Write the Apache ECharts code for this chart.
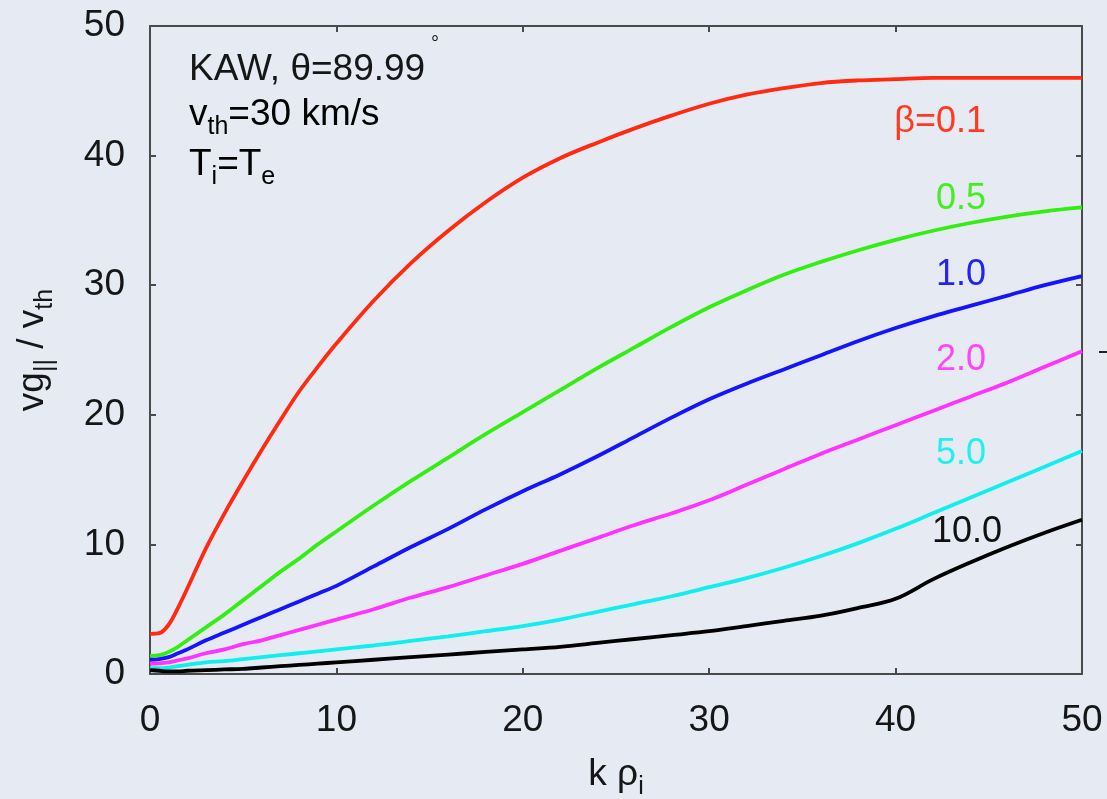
<!DOCTYPE html>
<html>
<head>
<meta charset="utf-8">
<script src="https://cdn.jsdelivr.net/npm/echarts@6/dist/echarts.min.js"></script>
<style>
  html, body { margin: 0; padding: 0; background: #e6ebf3; }
  #chart { width: 1107px; height: 799px; }
</style>
</head>
<body>
<div id="chart"></div>
<script>
// k rho_i sample points shared by every curve
const kRho = [0, 0.5, 1, 1.5, 2, 3, 4, 5, 6, 7, 8, 9, 10,
  12, 14, 16, 18, 20, 22, 24, 26, 28, 30, 32, 34, 36, 38, 40, 42, 44, 46, 48, 50];

// parallel group velocity vg|| / vth for each plasma beta
const beta01 = [3.1, 3.15, 3.8, 5.1, 6.6, 9.7, 12.4, 14.9, 17.3, 19.6, 21.8, 23.7, 25.5,
  28.8, 31.7, 34.2, 36.4, 38.3, 39.8, 41.0, 42.1, 43.1, 44.0, 44.7, 45.2, 45.6, 45.8, 45.9, 46.0, 46.0, 46.0, 46.0, 46.0];
const beta05 = [1.4, 1.45, 1.7, 2.1, 2.6, 3.6, 4.6, 5.7, 6.8, 7.9, 8.9, 10.0, 11.0,
  13.0, 14.9, 16.7, 18.5, 20.2, 21.9, 23.6, 25.2, 26.8, 28.3, 29.6, 30.8, 31.8, 32.7, 33.5, 34.2, 34.8, 35.3, 35.7, 36.0];
const beta10 = [1.1, 1.15, 1.3, 1.6, 1.9, 2.6, 3.2, 3.8, 4.4, 5.0, 5.6, 6.2, 6.8,
  8.3, 9.8, 11.2, 12.7, 14.1, 15.4, 16.8, 18.3, 19.8, 21.2, 22.4, 23.5, 24.6, 25.7, 26.7, 27.6, 28.4, 29.2, 30.0, 30.7];
const beta20 = [0.8, 0.82, 0.9, 1.05, 1.2, 1.6, 1.9, 2.3, 2.6, 3.0, 3.4, 3.8, 4.2,
  5.0, 5.9, 6.7, 7.6, 8.5, 9.5, 10.5, 11.5, 12.4, 13.4, 14.6, 15.8, 17.0, 18.1, 19.2, 20.3, 21.4, 22.5, 23.7, 24.9];
const beta50 = [0.45, 0.45, 0.5, 0.6, 0.7, 0.9, 1.0, 1.15, 1.3, 1.45, 1.6, 1.75, 1.9,
  2.2, 2.55, 2.9, 3.3, 3.7, 4.2, 4.8, 5.4, 6.0, 6.7, 7.4, 8.2, 9.1, 10.1, 11.2, 12.4, 13.6, 14.8, 16.0, 17.2];
const beta100 = [0.3, 0.25, 0.2, 0.2, 0.25, 0.3, 0.35, 0.4, 0.5, 0.6, 0.7, 0.8, 0.9,
  1.1, 1.3, 1.5, 1.7, 1.9, 2.1, 2.4, 2.7, 3.0, 3.3, 3.7, 4.1, 4.5, 5.1, 5.8, 7.3, 8.6, 9.8, 10.9, 11.9];

const betaLabels = ['β=0.1', '0.5', '1.0', '2.0', '5.0', '10.0'];
const xTicks = [0, 10, 20, 30, 40, 50];
const yTicks = [0, 10, 20, 30, 40, 50];

const FONT = '"Liberation Sans", Arial, Helvetica, sans-serif';
const INK = '#161616';
const AXIS = '#4a4a4a';

const curves = [
  { name: betaLabels[0], values: beta01, color: '#ff2a10', labelColor: '#ff3a20', lx: 986, ly: 122 },
  { name: betaLabels[1], values: beta05, color: '#33ee11', labelColor: '#44ee22', lx: 986, ly: 199 },
  { name: betaLabels[2], values: beta10, color: '#1414ff', labelColor: '#2424ee', lx: 986, ly: 275 },
  { name: betaLabels[3], values: beta20, color: '#ff33ff', labelColor: '#ff44ff', lx: 986, ly: 360 },
  { name: betaLabels[4], values: beta50, color: '#11eeee', labelColor: '#22f0f0', lx: 986, ly: 454 },
  { name: betaLabels[5], values: beta100, color: '#000000', labelColor: '#111111', lx: 1002, ly: 532 }
];

const chart = echarts.init(document.getElementById('chart'), null, { renderer: 'canvas' });

const tickLabel = { fontFamily: FONT, fontSize: 37, color: INK };
const rich = {
  n: { fontFamily: FONT, fontSize: 37, color: INK, lineHeight: 38 },
  s: { fontFamily: FONT, fontSize: 25, color: INK, lineHeight: 50, verticalAlign: 'bottom' }
};

const axisCommon = {
  type: 'value',
  min: 0, max: 50, interval: 10,
  splitLine: { show: false },
  axisLine: { show: true, onZero: false, lineStyle: { color: AXIS, width: 2 } },
  axisTick: { show: true, inside: true, length: 6, lineStyle: { color: AXIS, width: 2 } }
};

const graphics = [];
curves.forEach(c => {
  graphics.push({
    type: 'text', x: c.lx, y: c.ly, z: 10,
    style: { text: c.name, fill: c.labelColor, font: '36px ' + FONT, textAlign: 'right', textVerticalAlign: 'middle' }
  });
});
graphics.push(
  { type: 'text', x: 189, y: 70, z: 10,
    style: { text: 'KAW, θ=89.99', fill: INK, font: '37px ' + FONT, textVerticalAlign: 'middle' } },
  { type: 'text', x: 431, y: 44, z: 10,
    style: { text: '°', fill: INK, font: '20px ' + FONT, textVerticalAlign: 'middle' } },
  { type: 'text', x: 189, y: 90, z: 10,
    style: { text: '{n|v}{s|th}{n|=30 km/s}', rich: rich } },
  { type: 'text', x: 189, y: 140, z: 10,
    style: { text: '{n|T}{s|i}{n|=T}{s|e}', rich: rich } },
  { type: 'line', z: 10, shape: { x1: 1099, y1: 352, x2: 1107, y2: 352 }, style: { stroke: '#222', lineWidth: 2 } }
);

chart.setOption({
  backgroundColor: '#e6ebf3',
  animation: false,
  grid: { left: 150, right: 25, top: 26, bottom: 125, containLabel: false, outerBoundsMode: 'none' },
  xAxis: [
    Object.assign({}, axisCommon, {
      position: 'bottom',
      axisLabel: Object.assign({ margin: 28, formatter: v => xTicks.includes(v) ? String(v) : '' }, tickLabel),
      name: '{n|k ρ}{s|i}',
      nameLocation: 'middle',
      nameGap: 76,
      nameTextStyle: { rich: rich }
    }),
    Object.assign({}, axisCommon, { position: 'top', axisLabel: { show: false } })
  ],
  yAxis: [
    Object.assign({}, axisCommon, {
      position: 'left',
      axisLabel: Object.assign({ margin: 25, formatter: v => yTicks.includes(v) ? String(v) : '' }, tickLabel),
      name: '{n|vg}{s|||}{n| / v}{s|th}',
      nameLocation: 'middle',
      nameRotate: 90,
      nameGap: 92,
      nameTextStyle: { rich: rich }
    }),
    Object.assign({}, axisCommon, { position: 'right', axisLabel: { show: false } })
  ],
  series: curves.map(c => ({
    type: 'line',
    name: c.name,
    xAxisIndex: 0,
    yAxisIndex: 0,
    data: kRho.map((k, i) => [k, c.values[i]]),
    smooth: 0.35,
    showSymbol: false,
    clip: true,
    lineStyle: { color: c.color, width: 3.8 }
  })),
  graphic: graphics
});
</script>
</body>
</html>
